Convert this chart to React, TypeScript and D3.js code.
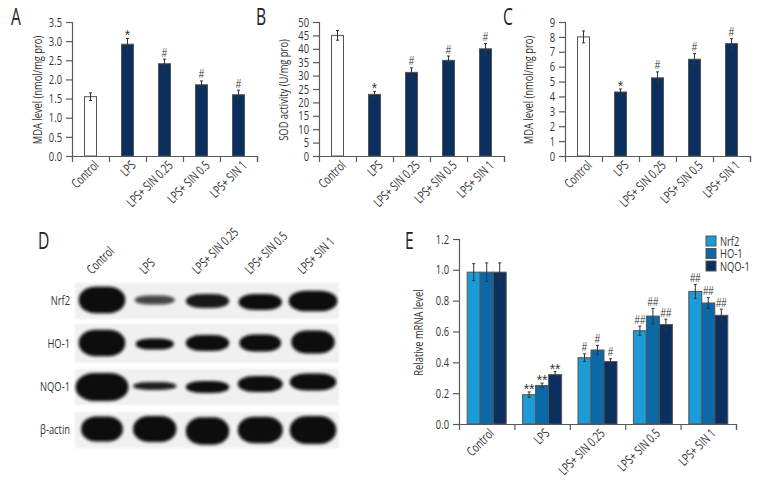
import { useEffect, useRef } from 'react';
import * as d3 from 'd3';

const groups = ['Control', 'LPS', 'LPS+ SIN 0.25', 'LPS+ SIN 0.5', 'LPS+ SIN 1'];

// panel A
const mdaA = [1.55, 2.92, 2.41, 1.86, 1.6];
const mdaAErr = [0.1, 0.15, 0.12, 0.1, 0.12];
const mdaATicks = [0, 0.5, 1, 1.5, 2, 2.5, 3, 3.5];
// panel B
const sod = [45, 23, 31.2, 35.7, 40];
const sodErr = [1.8, 1.1, 1.7, 1.6, 2.0];
const sodTicks = [0, 5, 10, 15, 20, 25, 30, 35, 40, 45, 50];
// panel C
const mdaC = [8, 4.3, 5.25, 6.5, 7.55];
const mdaCErr = [0.4, 0.2, 0.4, 0.38, 0.33];
const mdaCTicks = [0, 1, 2, 3, 4, 5, 6, 7, 8, 9];
const singleMarks = ['', '*', '#', '#', '#'];

// panel E
const genes = ['Nrf2', 'HO-1', 'NQO-1'];
const nrf2 = [0.985, 0.19, 0.43, 0.605, 0.86];
const nrf2Err = [0.055, 0.018, 0.025, 0.03, 0.045];
const ho1 = [0.985, 0.25, 0.48, 0.7, 0.785];
const ho1Err = [0.06, 0.015, 0.03, 0.05, 0.035];
const nqo1 = [0.985, 0.32, 0.405, 0.645, 0.705];
const nqo1Err = [0.06, 0.02, 0.018, 0.035, 0.04];
const mrnaTicks = [0, 0.2, 0.4, 0.6, 0.8, 1, 1.2];
const mrnaMarks = ['', '**', '#', '##', '##'];

// panel D, band size relative to the lane width / row height
const blotRows = ['Nrf2', 'HO-1', 'NQO-1', 'β-actin'];
const bandWidth = [
  [0.88, 0.76, 0.82, 0.82, 0.92],
  [0.88, 0.72, 0.82, 0.79, 0.82],
  [1.0, 0.82, 0.82, 0.85, 0.88],
  [0.79, 0.82, 0.82, 0.85, 0.88],
];
const bandHeight = [
  [0.6, 0.2, 0.32, 0.36, 0.47],
  [0.6, 0.25, 0.36, 0.39, 0.52],
  [0.64, 0.18, 0.27, 0.36, 0.39],
  [0.57, 0.59, 0.62, 0.6, 0.64],
];
const bandDrift = [
  [0, 0, 1, 2, 1],
  [0, 1, 0, 0, -1],
  [1, 0, 1, -2, -4],
  [0, 0, 2, 1, 1],
];
const bandDarkness = [
  [1, 0.75, 0.95, 1, 1],
  [1, 1, 1, 1, 1],
  [1, 0.92, 1, 1, 1],
  [1, 1, 1, 1, 1],
];

const navy = '#0b2f5e';
const geneColors = ['#1b9bd7', '#0a69a6', navy];
const ink = '#333';
const axisGrey = '#5a5a5a';
const fontFamily = '"Open Sans", sans-serif';
const squeeze = 0.72;

type Series = { values: number[]; errors: number[]; fill: (i: number) => string };

function BarPanel({ left, right, top, bottom, yMax, ticks, tickDigits, yLabel, yLabelX, series, marks, barWidth, labelShift, labelY }: {
  left: number; right: number; top: number; bottom: number; yMax: number; ticks: number[]; tickDigits: number;
  yLabel: string; yLabelX: number; series: Series[]; marks: string[][]; barWidth: number; labelShift: number; labelY: number;
}) {
  const ref = useRef<SVGGElement>(null);

  useEffect(() => {
    const g = d3.select(ref.current);
    g.selectAll('*').remove();

    const y = d3.scaleLinear().domain([0, yMax]).range([bottom, top]);
    const x = d3.scaleBand().domain(groups).range([left, right]);
    const edges = d3.scaleLinear().domain([0, groups.length]).range([left, right]);

    // bars and error bars
    series.forEach((s, k) => {
      const offset = (k - (series.length - 1) / 2) * barWidth;
      groups.forEach((name, i) => {
        const cx = x(name)! + x.bandwidth() / 2 + offset;
        g.append('rect')
          .attr('x', cx - barWidth / 2)
          .attr('y', y(s.values[i]))
          .attr('width', barWidth)
          .attr('height', bottom - y(s.values[i]))
          .attr('fill', s.fill(i))
          .attr('stroke', '#555')
          .attr('stroke-width', 1);
        const hi = y(s.values[i] + s.errors[i]);
        const lo = y(s.values[i] - s.errors[i]);
        g.append('path')
          .attr('d', `M${cx},${hi}V${lo}M${cx - 1.5},${hi}H${cx + 1.5}M${cx - 1.5},${lo}H${cx + 1.5}`)
          .attr('stroke', '#333')
          .attr('fill', 'none');
        const mark = marks[k][i];
        if (mark) {
          const star = mark.includes('*');
          g.append('text')
            .attr('transform', `translate(${cx},${star ? hi + 2 : hi - 2.5}) scale(${star ? 1 : 0.8},1)`)
            .attr('text-anchor', 'middle')
            .attr('font-family', '"Liberation Sans", sans-serif')
            .attr('font-size', star ? 14 : 12)
            .attr('fill', ink)
            .text(mark);
        }
      });
    });

    // axes
    const yAxis = g.append('g').attr('transform', `translate(${left},0)`)
      .call(d3.axisLeft(y).tickValues(ticks).tickSize(6).tickFormat((d) => d3.format(`.${tickDigits}f`)(d as number)));
    const xAxis = g.append('g').attr('transform', `translate(0,${bottom})`)
      .call(d3.axisBottom(edges).tickValues(d3.range(1, groups.length + 1)).tickSize(6).tickFormat(() => ''));
    [yAxis, xAxis].forEach((a) => {
      a.selectAll('path').attr('stroke', axisGrey).attr('stroke-width', 1.2);
      a.selectAll('line').attr('stroke', axisGrey).attr('stroke-width', 1.2);
    });
    yAxis.selectAll('text')
      .attr('x', null)
      .attr('transform', `translate(-10,0) scale(${squeeze},1)`)
      .attr('font-size', 13)
      .attr('font-family', fontFamily)
      .attr('fill', ink);

    // slanted group labels
    groups.forEach((name) => {
      const lx = x(name)! + x.bandwidth() / 2 + labelShift;
      g.append('text')
        .attr('transform', `translate(${lx},${labelY}) rotate(-45) scale(${squeeze},1)`)
        .attr('text-anchor', 'end')
        .attr('dy', '0.35em')
        .attr('font-size', 13)
        .attr('fill', ink)
        .text(name);
    });

    g.append('text')
      .attr('transform', `translate(${yLabelX},${(top + bottom) / 2 + 1}) rotate(-90) scale(${squeeze},1)`)
      .attr('text-anchor', 'middle')
      .attr('dy', '0.35em')
      .attr('font-size', 13)
      .attr('fill', ink)
      .text(yLabel);
  }, []);

  return <g ref={ref} />;
}

function Blot() {
  const lane = d3.scalePoint().domain(groups).range([102, 313]);
  const row = d3.scalePoint().domain(blotRows).range([300, 429]);
  const laneStep = lane.step();
  const rowHeight = 44;

  return (
    <g>
      <defs>
        <filter id="band-blur" x="-30%" y="-60%" width="160%" height="220%">
          <feGaussianBlur stdDeviation="1.6" />
        </filter>
        <filter id="bg-blur" x="-2%" y="-10%" width="104%" height="120%">
          <feGaussianBlur stdDeviation="0.8" />
        </filter>
      </defs>
      {blotRows.map((r, ri) => (
        <g key={r}>
          <rect x={75} y={row(r)! - (ri === 1 ? 19 : 17)} width={264} height={ri === 1 ? 39 : 36} fill="#f0f0f0" filter="url(#bg-blur)" />
          <text transform={`translate(70,${row(r)}) scale(${squeeze},1)`} dy="0.35em" textAnchor="end" fontSize={13} fill={ink}>{r}</text>
          {groups.map((g, i) => {
            const w = bandWidth[ri][i] * laneStep;
            const h = bandHeight[ri][i] * rowHeight;
            return (
              <rect
                key={g}
                x={lane(g)! - w / 2}
                y={row(r)! + bandDrift[ri][i] - h / 2}
                width={w}
                height={h}
                rx={w * 0.36}
                ry={h * 0.48}
                fill="#0a0a0a"
                opacity={bandDarkness[ri][i]}
                filter="url(#band-blur)"
              />
            );
          })}
        </g>
      ))}
      {groups.map((g) => (
        <text
          key={g}
          transform={`translate(${lane(g)! - 10},275) rotate(-45) scale(${squeeze},1)`}
          fontSize={13}
          fill={ink}
        >
          {g}
        </text>
      ))}
    </g>
  );
}

function PanelLetter({ x, y, children }: { x: number; y: number; children: string }) {
  return <text transform={`translate(${x},${y}) scale(0.68,1)`} fontSize={23} fill="#222">{children}</text>;
}

export default function App() {
  const single = (values: number[], errors: number[]): Series[] => [
    { values, errors, fill: (i) => (i === 0 ? '#fff' : navy) },
  ];
  const legend = d3.scalePoint().domain(genes).range([241, 266]);

  return (
    <svg
      width={780}
      height={492}
      viewBox="0 0 780 492"
      fontFamily={fontFamily}
      style={{ position: 'absolute', left: 0, top: 0, background: '#fff' }}
    >
      <PanelLetter x={11} y={25}>A</PanelLetter>
      <PanelLetter x={256} y={25}>B</PanelLetter>
      <PanelLetter x={503} y={25}>C</PanelLetter>
      <PanelLetter x={38} y={249}>D</PanelLetter>
      <PanelLetter x={405} y={249}>E</PanelLetter>

      <BarPanel left={72} right={257} top={22} bottom={156} yMax={3.5} ticks={mdaATicks} tickDigits={1}
        yLabel="MDA level (nmol/mg pro)" yLabelX={37} series={single(mdaA, mdaAErr)} marks={[singleMarks]}
        barWidth={12} labelShift={6} labelY={163} />
      <BarPanel left={319} right={504} top={22} bottom={156} yMax={50} ticks={sodTicks} tickDigits={0}
        yLabel="SOD activity (U/mg pro)" yLabelX={283} series={single(sod, sodErr)} marks={[singleMarks]}
        barWidth={12} labelShift={6} labelY={163} />
      <BarPanel left={565} right={750} top={22} bottom={156} yMax={9} ticks={mdaCTicks} tickDigits={0}
        yLabel="MDA level (nmol/mg pro)" yLabelX={528} series={single(mdaC, mdaCErr)} marks={[singleMarks]}
        barWidth={12} labelShift={6} labelY={163} />

      <Blot />

      <BarPanel left={459} right={736} top={239} bottom={424} yMax={1.2} ticks={mrnaTicks} tickDigits={1}
        yLabel="Relative mRNA level" yLabelX={418}
        series={[
          { values: nrf2, errors: nrf2Err, fill: () => geneColors[0] },
          { values: ho1, errors: ho1Err, fill: () => geneColors[1] },
          { values: nqo1, errors: nqo1Err, fill: () => geneColors[2] },
        ]}
        marks={[mrnaMarks, mrnaMarks, mrnaMarks]}
        barWidth={13} labelShift={5} labelY={431} />

      {genes.map((g, i) => (
        <g key={g}>
          <rect x={706} y={legend(g)! - 5} width={10} height={10} fill={geneColors[i]} stroke="#555" />
          <text transform={`translate(720,${legend(g)}) scale(${squeeze},1)`} dy="0.35em" fontSize={13} fill={ink}>{g}</text>
        </g>
      ))}
    </svg>
  );
}
